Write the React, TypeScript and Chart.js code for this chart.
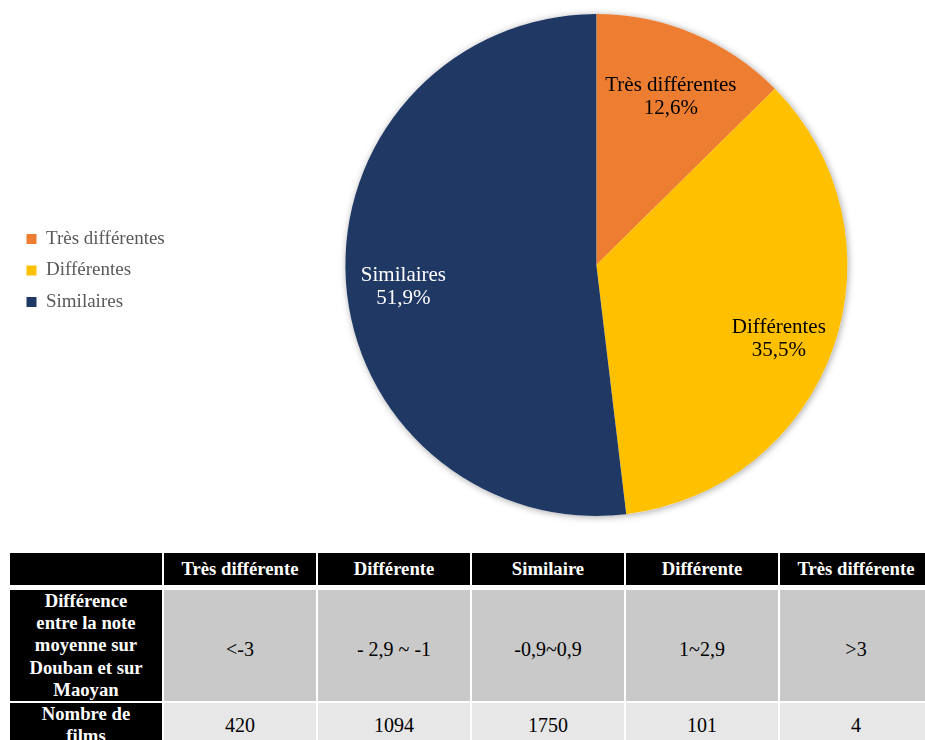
import React, { useEffect, useRef } from 'react';
import { Chart, registerables } from 'chart.js';

Chart.register(...registerables);

const pieLabels = ['Très différentes', 'Différentes', 'Similaires'];
const pieValues = [12.6, 35.5, 51.9];
const pieColors = ['#ED7D31', '#FFC000', '#203864'];
const pieLabelColors = ['#000000', '#000000', '#FFFFFF'];

const tableHeader = ['', 'Très différente', 'Différente', 'Similaire', 'Différente', 'Très différente'];
const rowDiffTitleLines = ['Différence', 'entre la note', 'moyenne sur', 'Douban et sur', 'Maoyan'];
const rowDiffValues = ['<-3', '- 2,9 ~ -1', '-0,9~0,9', '1~2,9', '>3'];
const rowCountTitleLines = ['Nombre de', 'films'];
const rowCountValues = [420, 1094, 1750, 101, 4];

const SERIF = "'Liberation Serif', 'Times New Roman', serif";

const shadowPlugin = {
  id: 'pieShadow',
  beforeDatasetsDraw(chart: any) {
    const arc = chart.getDatasetMeta(0).data[0];
    if (!arc) return;
    const { x, y, outerRadius } = arc;
    const ctx = chart.ctx;
    ctx.save();
    ctx.shadowColor = 'rgba(0,0,0,0.35)';
    ctx.shadowBlur = 7;
    ctx.shadowOffsetX = 1;
    ctx.shadowOffsetY = 1;
    ctx.beginPath();
    ctx.arc(x, y, outerRadius, 0, Math.PI * 2);
    ctx.fillStyle = '#ffffff';
    ctx.fill();
    ctx.restore();
  },
};

const sliceLabelPlugin = {
  id: 'sliceLabels',
  afterDatasetsDraw(chart: any) {
    const meta = chart.getDatasetMeta(0);
    const ctx = chart.ctx;
    const values = chart.data.datasets[0].data as number[];
    meta.data.forEach((arc: any, i: number) => {
      const { x, y, startAngle, endAngle, outerRadius } = arc;
      const mid = (startAngle + endAngle) / 2;
      const r = outerRadius * 0.77;
      const cx = x + Math.cos(mid) * r;
      const cy = y + Math.sin(mid) * r + outerRadius * 0.04;
      ctx.save();
      ctx.font = `21px ${SERIF}`;
      ctx.fillStyle = pieLabelColors[i];
      ctx.textAlign = 'center';
      ctx.textBaseline = 'middle';
      const pct = values[i].toFixed(1).replace('.', ',') + '%';
      ctx.fillText(chart.data.labels[i], cx, cy - 11.5);
      ctx.fillText(pct, cx, cy + 11.5);
      ctx.restore();
    });
  },
};

function PieChart() {
  const ref = useRef<HTMLCanvasElement | null>(null);
  useEffect(() => {
    if (!ref.current) return;
    const chart = new Chart(ref.current, {
      type: 'pie',
      data: {
        labels: pieLabels,
        datasets: [
          {
            data: pieValues,
            backgroundColor: pieColors,
            borderWidth: 0,
          },
        ],
      },
      options: {
        responsive: true,
        maintainAspectRatio: false,
        animation: false,
        layout: { padding: { left: 14, right: 0, top: 14, bottom: 35 } },
        plugins: {
          legend: {
            position: 'left',
            align: 'center',
            title: { display: true, text: '', padding: 0, font: { size: 11, lineHeight: 1 } },
            labels: {
              boxWidth: 10,
              boxHeight: 10,
              padding: 12.5,
              color: '#595959',
              font: { family: SERIF, size: 19 },
            },
          },
          title: {
            display: true,
            position: 'left',
            text: '',
            weight: 0,
            padding: { top: 83, bottom: 0 },
            font: { size: 10, lineHeight: 1 },
          },
          tooltip: { enabled: false },
        },
      } as any,
      plugins: [shadowPlugin, sliceLabelPlugin],
    });
    return () => chart.destroy();
  }, []);
  return (
    <div style={{ position: 'relative', width: 925, height: 551 }}>
      <canvas ref={ref} />
    </div>
  );
}

const cellBase: React.CSSProperties = {
  width: 152,
  padding: 0,
  textAlign: 'center',
  verticalAlign: 'middle',
  fontFamily: SERIF,
};

const headCell: React.CSSProperties = {
  ...cellBase,
  background: '#000000',
  color: '#ffffff',
  fontWeight: 'bold',
  fontSize: 18.7,
};

export default function App() {
  return (
    <div
      style={{
        position: 'absolute',
        left: 0,
        top: 0,
        width: 925,
        height: 740,
        overflow: 'hidden',
        background: '#ffffff',
      }}
    >
      <PieChart />
      <table
        style={{
          marginLeft: 8,
          borderCollapse: 'separate',
          borderSpacing: 2,
          tableLayout: 'fixed',
          width: 926,
        }}
      >
        <tbody>
          <tr>
            {tableHeader.map((h, i) => (
              <td
                key={i}
                style={{
                  ...headCell,
                  height: 32,
                  lineHeight: '22px',
                  borderBottom: '3px solid #ffffff',
                  whiteSpace: 'nowrap',
                }}
              >
                {h}
              </td>
            ))}
          </tr>
          <tr>
            <td style={{ ...headCell, lineHeight: '22.2px' }}>
              {rowDiffTitleLines.map((l, i) => (
                <React.Fragment key={i}>
                  {l}
                  {i < rowDiffTitleLines.length - 1 && <br />}
                </React.Fragment>
              ))}
            </td>
            {rowDiffValues.map((v, i) => (
              <td
                key={i}
                style={{
                  ...cellBase,
                  background: '#C9C9C9',
                  color: '#000000',
                  fontSize: 20,
                  paddingTop: 8,
                }}
              >
                {v}
              </td>
            ))}
          </tr>
          <tr>
            <td style={{ ...headCell, lineHeight: '22.2px' }}>
              {rowCountTitleLines.map((l, i) => (
                <React.Fragment key={i}>
                  {l}
                  {i < rowCountTitleLines.length - 1 && <br />}
                </React.Fragment>
              ))}
            </td>
            {rowCountValues.map((v, i) => (
              <td
                key={i}
                style={{ ...cellBase, background: '#E7E7E7', color: '#000000', fontSize: 20 }}
              >
                {v}
              </td>
            ))}
          </tr>
        </tbody>
      </table>
    </div>
  );
}
